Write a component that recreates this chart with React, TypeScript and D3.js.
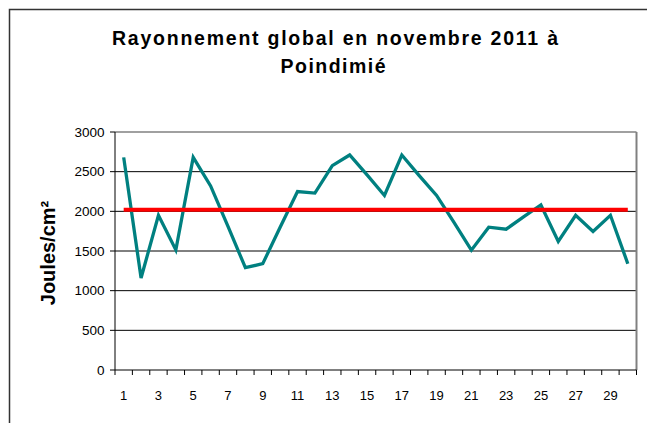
import React from "react";
import * as d3 from "d3";

const days: number[] = Array.from({ length: 30 }, (_, i) => i + 1);
const radiation: number[] = [
  2680, 1160, 1950, 1513, 2680, 2320, 1810, 1290, 1340, 1800,
  2250, 2230, 2575, 2710, 2460, 2200, 2710, 2450, 2200, 1860,
  1510, 1800, 1775, 1930, 2080, 1620, 1950, 1745, 1950, 1340,
];
const average: number[] = days.map(() => 2020);
const yTicks: number[] = [0, 500, 1000, 1500, 2000, 2500, 3000];
const xLabels: number[] = days.filter((d) => d % 2 === 1);

const titleLine1 = "Rayonnement global en novembre 2011 à";
const titleLine2 = "Poindimié";
const yTitle = "Joules/cm²";

const W = 647;
const H = 423;
const left = 115;
const right = 636.5;
const top = 132;
const bottom = 370;
const font = "'Liberation Sans', Arial, Helvetica, sans-serif";

export default function App() {
  const x = d3.scaleBand<number>().domain(days).range([left, right]).paddingInner(0).paddingOuter(0);
  const y = d3.scaleLinear().domain([0, 3000]).range([bottom, top]);
  const cx = (d: number) => (x(d) as number) + x.bandwidth() / 2;

  const line = d3
    .line<number>()
    .x((_, i) => cx(days[i]))
    .y((v) => y(v));

  const boundaries = d3.range(0, days.length + 1).map((i) => left + i * x.bandwidth());

  return (
    <svg
      width={W}
      height={H}
      style={{ position: "fixed", left: 0, top: 0, background: "#fff" }}
      fontFamily={font}
    >
      <rect x={0} y={0} width={W} height={H} fill="#fff" />
      <rect x={9.5} y={9.5} width={W} height={H} fill="none" stroke="#333" strokeWidth={1.5} />

      <text x={335} y={45} textAnchor="middle" fontSize={19.5} fontWeight="bold" fill="#000"
        textLength={446} lengthAdjust="spacing">
        {titleLine1}
      </text>
      <text x={333} y={72.5} textAnchor="middle" fontSize={19.5} fontWeight="bold" fill="#000"
        textLength={105} lengthAdjust="spacing">
        {titleLine2}
      </text>

      {/* gridlines */}
      {yTicks.filter((t) => t > 0 && t < 3000).map((t) => (
        <line key={"g" + t} x1={left} x2={right} y1={y(t)} y2={y(t)} stroke="#000" strokeWidth={1} />
      ))}
      {/* plot area border top/right */}
      <line x1={left} x2={right} y1={y(3000)} y2={y(3000)} stroke="#808080" strokeWidth={1.5} />
      <line x1={right} x2={right} y1={top} y2={bottom} stroke="#808080" strokeWidth={2} />

      {/* y axis */}
      <line x1={left} x2={left} y1={top} y2={bottom} stroke="#000" strokeWidth={1} />
      {yTicks.map((t) => (
        <g key={"y" + t}>
          <line x1={left - 5} x2={left} y1={y(t)} y2={y(t)} stroke="#000" strokeWidth={1} />
          <text x={104.5} y={y(t) + 4.7} textAnchor="end" fontSize={13.5} fill="#000">
            {t}
          </text>
        </g>
      ))}

      {/* x axis */}
      <line x1={left} x2={right} y1={bottom} y2={bottom} stroke="#000" strokeWidth={1} />
      {boundaries.map((bx, i) => (
        <line key={"xt" + i} x1={bx} x2={bx} y1={bottom} y2={bottom + 5} stroke="#000" strokeWidth={1} />
      ))}
      {xLabels.map((d) => (
        <text key={"xl" + d} x={cx(d)} y={400} textAnchor="middle" fontSize={13} fill="#000">
          {d}
        </text>
      ))}

      <text
        transform={`translate(55,253) rotate(-90)`}
        textAnchor="middle"
        fontSize={20}
        fontWeight="bold"
        fill="#000"
      >
        {yTitle}
      </text>

      <path d={line(radiation) || ""} fill="none" stroke="#008080" strokeWidth={3.3} strokeLinejoin="miter" />
      <path d={line(average) || ""} fill="none" stroke="#FF0000" strokeWidth={4} />
    </svg>
  );
}
